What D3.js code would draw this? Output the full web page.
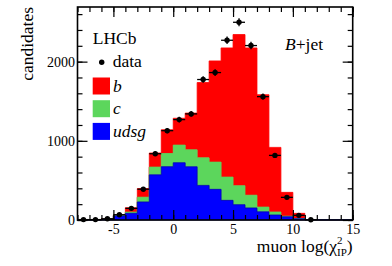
<!DOCTYPE html>
<html>
<head>
<meta charset="utf-8">
<script src="https://cdn.jsdelivr.net/npm/d3@7"></script>
<style>
  body { margin: 0; background: #fff; }
  svg { display: block; }
  text { font-family: "Liberation Serif", "Times New Roman", serif; fill: #000; }
</style>
</head>
<body>
<figure id="plot" style="margin:0"></figure>
<script>
// bins of muon log(chi2_IP), width 1, from -8 to 15
const binLow = [-8, -7, -6, -5, -4, -3, -2, -1, 0, 1, 2, 3, 4, 5, 6, 7, 8, 9, 10, 11, 12, 13, 14];
const udsgCounts = [3, 3, 10, 52, 85, 228, 570, 673, 723, 672, 437, 387, 248, 193, 152, 103, 63, 40, 15, 5, 3, 3, 3];
const cCounts = [1, 1, 3, 5, 15, 60, 98, 167, 223, 214, 348, 344, 294, 240, 161, 60, 38, 8, 2, 1, 0, 0, 0];
const bCounts = [1, 1, 5, 5, 55, 109, 178, 300, 339, 464, 951, 1278, 1631, 1909, 1860, 1419, 816, 301, 67, 0, 0, 0, 0];

// data points (bin centres -7.5 .. 11.5)
const dataX = [-7.5, -6.5, -5.5, -4.5, -3.5, -2.5, -1.5, -0.5, 0.5, 1.5, 2.5, 3.5, 4.5, 5.5, 6.5, 7.5, 8.5, 9.5, 10.5, 11.5];
const dataY = [5, 5, 15, 67, 147, 389, 837, 1128, 1268, 1340, 1774, 1862, 2270, 2497, 2203, 1558, 816, 286, 59, 3];

const yTicks = [0, 1000, 2000];
const xTicks = [-5, 0, 5, 10, 15];

const W = 392, H = 266;
const padL = 77.5, padR = 352.7, padT = 7, padB = 220;

const svg = d3.select("figure#plot")
  .append("svg")
  .attr("width", W)
  .attr("height", H);

const x = d3.scaleLinear().domain([-8, 15]).range([padL, padR]);
const y = d3.scaleLinear().domain([0, 2690]).range([padB, padT]);

// stacked histogram
const rows = binLow.map((lo, i) => ({ lo: lo, udsg: udsgCounts[i], c: cCounts[i], b: bCounts[i] }));
rows.push({ lo: 15, udsg: udsgCounts[udsgCounts.length - 1], c: cCounts[cCounts.length - 1], b: bCounts[bCounts.length - 1] });
const stack = d3.stack().keys(["udsg", "c", "b"])(rows);

const fills = { udsg: "#0000ff", c: "#5cd65c", b: "#ff0000" };
const strokes = { udsg: "#0000b0", c: "#5cd65c", b: "#ff0000" };

const area = d3.area()
  .curve(d3.curveStepAfter)
  .x(d => x(d.data.lo))
  .y0(d => y(d[0]))
  .y1(d => y(d[1]));

// draw b (top) first so the lower layers sit over it
svg.append("g")
  .selectAll("path")
  .data(stack.slice().reverse())
  .enter()
  .append("path")
  .attr("d", area)
  .attr("fill", d => fills[d.key])
  .attr("stroke", d => strokes[d.key])
  .attr("stroke-width", 0.8);

// data points with error bars
const pts = svg.append("g");
dataX.forEach((cx, i) => {
  const n = dataY[i];
  const err = Math.sqrt(n);
  pts.append("line")
    .attr("x1", x(cx - 0.5)).attr("x2", x(cx + 0.5))
    .attr("y1", y(n)).attr("y2", y(n))
    .attr("stroke", "#000").attr("stroke-width", 1.3);
  pts.append("line")
    .attr("x1", x(cx)).attr("x2", x(cx))
    .attr("y1", y(n + err)).attr("y2", y(Math.max(n - err, 0)))
    .attr("stroke", "#000").attr("stroke-width", 1.3);
  pts.append("circle")
    .attr("cx", x(cx)).attr("cy", y(n))
    .attr("r", 2.7).attr("fill", "#000");
});

// axes, ticks inside the frame
const tickFont = 14;
const yMinor = d3.range(0, 2690, 200);
const xMinor = d3.range(-8, 15.01, 1);

function styleAxis(g) {
  g.select(".domain").remove();
  g.selectAll("line").attr("stroke", "#000").attr("stroke-width", 1.2);
  g.selectAll("text").attr("font-size", tickFont).attr("font-family", "Liberation Serif, serif");
}

svg.append("g").attr("transform", `translate(${padL},0)`)
  .call(d3.axisLeft(y).tickValues(yMinor).tickSize(-5).tickFormat("")).call(styleAxis);
svg.append("g").attr("transform", `translate(${padL},0)`)
  .call(d3.axisLeft(y).tickValues(yTicks).tickSize(-10).tickPadding(2.5).tickFormat(d3.format("d"))).call(styleAxis);
svg.append("g").attr("transform", `translate(${padR},0)`)
  .call(d3.axisRight(y).tickValues(yMinor).tickSize(-5).tickFormat("")).call(styleAxis);
svg.append("g").attr("transform", `translate(${padR},0)`)
  .call(d3.axisRight(y).tickValues(yTicks).tickSize(-10).tickFormat("")).call(styleAxis);

svg.append("g").attr("transform", `translate(0,${padB})`)
  .call(d3.axisBottom(x).tickValues(xMinor).tickSize(-5).tickFormat("")).call(styleAxis);
svg.append("g").attr("transform", `translate(0,${padB})`)
  .call(d3.axisBottom(x).tickValues(xTicks).tickSize(-10).tickPadding(4).tickFormat(d => d < 0 ? "-" + Math.abs(d) : d)).call(styleAxis);
svg.append("g").attr("transform", `translate(0,${padT})`)
  .call(d3.axisTop(x).tickValues(xMinor).tickSize(-5).tickFormat("")).call(styleAxis);
svg.append("g").attr("transform", `translate(0,${padT})`)
  .call(d3.axisTop(x).tickValues(xTicks).tickSize(-10).tickFormat("")).call(styleAxis);

// frame
svg.append("rect")
  .attr("x", padL).attr("y", padT)
  .attr("width", padR - padL).attr("height", padB - padT)
  .attr("fill", "none").attr("stroke", "#000").attr("stroke-width", 1.6);

// axis titles
const bigFont = 17.5;
svg.append("text")
  .attr("transform", "translate(32.5,7) rotate(-90)")
  .attr("text-anchor", "end")
  .attr("font-size", bigFont)
  .text("candidates");

const xt = svg.append("text")
  .attr("x", padR).attr("y", 252)
  .attr("text-anchor", "end")
  .attr("font-size", bigFont);
xt.append("tspan").text("muon log(");
xt.append("tspan").text("\u03C7");
xt.append("tspan").attr("font-size", 11).attr("dy", -8).text("2");
xt.append("tspan").attr("font-size", 11).attr("dx", -5.5).attr("dy", 12).text("IP");
xt.append("tspan").attr("dy", -4).text(")");

// legend
svg.append("text").attr("x", 92.7).attr("y", 44).attr("font-size", bigFont).text("LHCb");
svg.append("circle").attr("cx", 101.7).attr("cy", 62.3).attr("r", 2.7).attr("fill", "#000");
svg.append("text").attr("x", 112.7).attr("y", 66.5).attr("font-size", bigFont).text("data");

const legendKeys = ["b", "c", "udsg"];
legendKeys.forEach((k, i) => {
  svg.append("rect")
    .attr("x", 92.7).attr("y", 77.5 + i * 22.7)
    .attr("width", 17.3).attr("height", 17)
    .attr("fill", fills[k]);
  svg.append("text")
    .attr("x", 113).attr("y", 91.7 + i * 22.7)
    .attr("font-size", bigFont)
    .attr("font-style", "italic")
    .text(k);
});

const bj = svg.append("text").attr("x", 285).attr("y", 50).attr("font-size", bigFont);
bj.append("tspan").attr("font-style", "italic").text("B");
bj.append("tspan").text("+jet");
</script>
</body>
</html>
